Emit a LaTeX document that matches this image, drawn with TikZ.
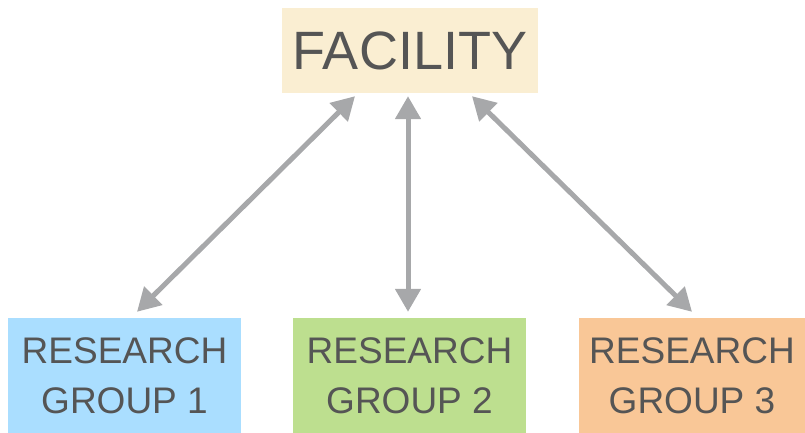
\documentclass[tikz,border=0pt]{standalone}
\usepackage{fontspec}
\setmainfont{Liberation Sans}
\usetikzlibrary{arrows.meta,calc}
\definecolor{txt}{HTML}{555555}
\definecolor{link}{HTML}{A7A8AA}
\definecolor{facfill}{HTML}{FAEED2}
\definecolor{gAfill}{HTML}{AADEFF}
\definecolor{gBfill}{HTML}{BDDF8F}
\definecolor{gCfill}{HTML}{F9C797}
\begin{document}
\begin{tikzpicture}[x=1pt,y=1pt,
  box/.style={inner sep=0pt, text=txt, align=center},
  facbox/.style={box, fill=facfill, minimum width=256pt, minimum height=85pt,
    font=\fontsize{54}{60}\selectfont},
  grpbox/.style={box, minimum height=115pt,
    font=\fontsize{37}{50}\selectfont},
  link/.style={draw=link, line width=5pt,
    {Triangle[length=23pt,width=25pt]}-{Triangle[length=23pt,width=25pt]}}]
\useasboundingbox (0,0) rectangle (805,433);
\node[facbox] (fac) at (410,382.5) {FACILITY};
\node[grpbox, fill=gAfill, minimum width=233pt] (g1) at (124.5,57.5) {RESEARCH\\GROUP 1};
\node[grpbox, fill=gBfill, minimum width=233pt] (g2) at (409.5,57.5) {RESEARCH\\GROUP 2};
\node[grpbox, fill=gCfill, minimum width=226pt] (g3) at (692,57.5) {RESEARCH\\GROUP 3};
% arrow end points just off the box edges
\coordinate (f1) at ($(fac.south)+(-55,-3)$);
\coordinate (f2) at ($(fac.south)+(-2,-3)$);
\coordinate (f3) at ($(fac.south)+(62,-3)$);
\coordinate (e1) at ($(g1.north)+(12.5,6)$);
\coordinate (e2) at ($(g2.north)+(-1.5,6)$);
\coordinate (e3) at ($(g3.north)+(0,6)$);
\draw[link] (f1) -- (e1);
\draw[link] (f2) -- (e2);
\draw[link] (f3) -- (e3);
\end{tikzpicture}
\end{document}
